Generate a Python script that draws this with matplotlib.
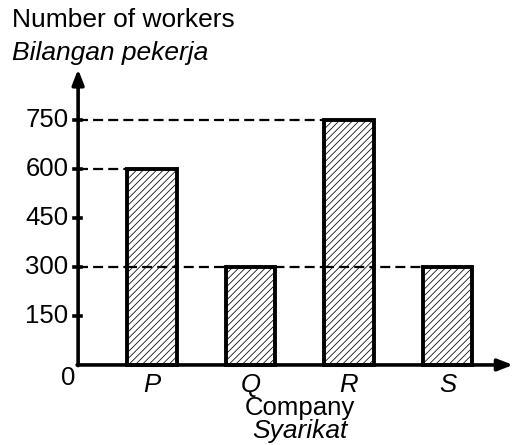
import matplotlib.pyplot as plt

plt.rcParams['font.family'] = ['Liberation Sans', 'DejaVu Sans']
plt.rcParams['hatch.color'] = "#8c8c8c"
plt.rcParams['hatch.linewidth'] = 0.55

companies = ["P", "Q", "R", "S"]
workers = [600, 300, 750, 300]
y_ticks = [150, 300, 450, 600, 750]
guide_levels = [750, 600, 300]

fig = plt.figure(figsize=(5.13, 4.45), dpi=100)
ax = fig.add_axes([0, 0, 1, 1])
ax.set_xlim(-0.543, 4.665)
ax.set_ylim(-245, 1117)
ax.axis("off")

x = list(range(1, len(companies) + 1))
x0 = 0.25  # where the vertical axis sits
dash = (0, (4.5, 2.3))

# dashed guide lines from the axis to the last bar with that height
for lvl in guide_levels:
    last = [xi - 0.25 for xi, w in zip(x, workers) if w == lvl][-1]
    ax.plot([x0, last], [lvl, lvl], color="black", lw=1.6, ls=dash, zorder=1)

ax.bar(x, workers, width=0.5, color="white", edgecolor="black", linewidth=2.8,
       hatch="/////", zorder=2)

# dashes at 300 run over the taller bars
for xi, w in zip(x, workers):
    if w > 300:
        ax.plot([xi - 0.25, xi + 0.25], [300, 300], color="black", lw=1.6,
                ls=dash, zorder=3)

# axes with arrows
ax.annotate("", xy=(x0, 905), xytext=(x0, -2),
            arrowprops=dict(arrowstyle="-|>,head_width=0.35,head_length=0.9",
                            color="black", lw=2.6, shrinkA=0, shrinkB=0), zorder=4)
ax.annotate("", xy=(4.665, 0), xytext=(x0 - 0.01, 0),
            arrowprops=dict(arrowstyle="-|>,head_width=0.35,head_length=0.9",
                            color="black", lw=2.6, shrinkA=0, shrinkB=0), zorder=4)

fs = 18.5
for t in y_ticks:
    ax.plot([x0 - 0.04, x0 + 0.03], [t, t], color="black", lw=2.6, zorder=4)
    ax.text(x0 - 0.1, t, str(t), ha="right", va="center", fontsize=fs)
ax.text(x0 - 0.03, -40, "0", ha="right", va="center", fontsize=fs)

for xi, c in zip(x, companies):
    ax.text(xi, -62, c, ha="center", va="center", fontsize=fs, style="italic")

ax.text(2.5, -132, "Company", ha="center", va="center", fontsize=fs)
ax.text(2.5, -203, "Syarikat", ha="center", va="center", fontsize=19, style="italic")

ax.text(-0.42, 1055, "Number of workers", ha="left", va="center", fontsize=19)
ax.text(-0.42, 955, "Bilangan pekerja", ha="left", va="center", fontsize=19, style="italic")

fig.savefig("out.png", dpi=100)
